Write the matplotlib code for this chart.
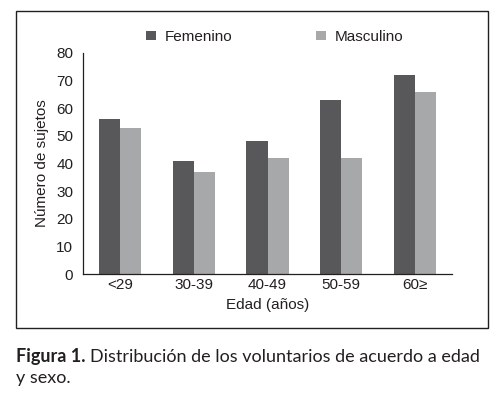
import matplotlib
matplotlib.use("Agg")
import matplotlib.pyplot as plt
from matplotlib.patches import Rectangle
import numpy as np

# data
categorias = ["<29", "30-39", "40-49", "50-59", "60≥"]
femenino = [56, 41, 48, 63, 72]
masculino = [53, 37, 42, 42, 66]

col_f = "#58585a"
col_m = "#a7a8aa"
txt = "#231f20"

plt.rcParams["font.family"] = ["Liberation Sans", "DejaVu Sans"]

W, H = 497, 394
fig = plt.figure(figsize=(W / 100, H / 100), dpi=100)

# frame around the chart
fig.patches.append(Rectangle((16 / W, 1 - 328 / H), (488 - 16) / W, (328 - 11) / H,
                             transform=fig.transFigure, fill=False, lw=1.0, ec=txt))

ax = fig.add_axes([83 / W, 1 - 274 / H, (452 - 83) / W, (274 - 53) / H])
x = np.arange(len(categorias))
w = 0.285
ax.bar(x - w / 2, femenino, w, color=col_f, label="Femenino")
ax.bar(x + w / 2, masculino, w, color=col_m, label="Masculino")

ax.set_xlim(-0.5, 4.5)
ax.set_ylim(0, 80)
ax.set_yticks(range(0, 81, 10))
ax.set_xticks(x)
ax.set_xticklabels(categorias)
ax.tick_params(axis="both", length=0, labelsize=11, labelcolor=txt)
ax.tick_params(axis="y", pad=7)
ax.tick_params(axis="x", pad=3)
for s in ["top", "right"]:
    ax.spines[s].set_visible(False)
for s in ["left", "bottom"]:
    ax.spines[s].set_color(txt)
    ax.spines[s].set_linewidth(0.9)

ax.set_ylabel("Número de sujetos", fontsize=11, color=txt, labelpad=5)
ax.set_xlabel("Edad (años)", fontsize=11, color=txt, labelpad=4)

leg = ax.legend(loc="lower center", bbox_to_anchor=(0.52, 1.0), ncol=2, frameon=False,
                fontsize=11, handlelength=0.6, handleheight=0.6, columnspacing=5.5,
                handletextpad=0.6, borderaxespad=0.2)
for t in leg.get_texts():
    t.set_color(txt)

# caption
cap_font = ["Lato", "DejaVu Sans"]
cap_size = 13.0
t1 = fig.text(16 / W, 1 - 362 / H, "Figura 1.", fontsize=cap_size, fontweight="bold",
              family=cap_font, color=txt, va="baseline")
fig.canvas.draw()
bb = t1.get_window_extent()
fig.text((bb.x1 + 4) / W, 1 - 362 / H, "Distribución de los voluntarios de acuerdo a edad",
         fontsize=cap_size, family=cap_font, color=txt, va="baseline")
fig.text(16 / W, 1 - 383 / H, "y sexo.", fontsize=cap_size, family=cap_font, color=txt,
         va="baseline")

fig.savefig("out.png", dpi=100)
